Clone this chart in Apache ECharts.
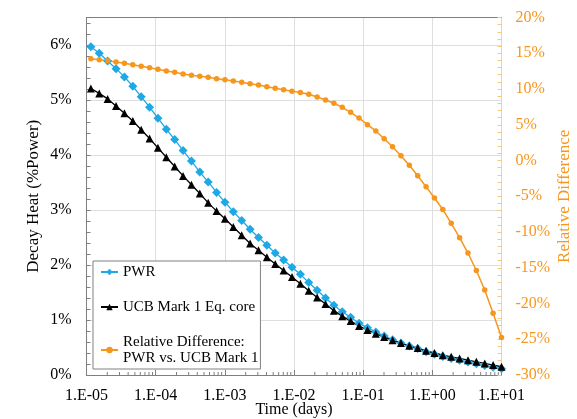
<!DOCTYPE html>
<html>
<head>
<meta charset="utf-8">
<script src="https://cdn.jsdelivr.net/npm/echarts@6/dist/echarts.min.js"></script>
<style>html,body{margin:0;padding:0;background:#fff}#c{width:577px;height:419px}</style>
</head>
<body>
<div id="c"></div>
<script>
const timeDays = [1.157e-5,1.530e-5,2.022e-5,2.673e-5,3.533e-5,4.669e-5,6.172e-5,8.156e-5,1.078e-4,1.425e-4,
  1.884e-4,2.490e-4,3.291e-4,4.349e-4,5.749e-4,7.598e-4,1.004e-3,1.327e-3,1.754e-3,2.319e-3,
  3.065e-3,4.051e-3,5.355e-3,7.078e-3,9.357e-3,1.237e-2,1.635e-2,2.161e-2,2.856e-2,3.775e-2,
  4.989e-2,6.594e-2,8.715e-2,0.1152,0.1523,0.2012,0.2660,0.3516,0.4648,0.6142,
  0.8119,1.073,1.418,1.875,2.478,3.275,4.329,5.721,7.562,10];
const pwr = [5.97,5.85,5.71,5.57,5.42,5.25,5.06,4.87,4.67,4.47,
  4.28,4.08,3.89,3.69,3.51,3.32,3.14,2.97,2.81,2.65,
  2.50,2.36,2.22,2.09,1.96,1.83,1.68,1.54,1.40,1.27,
  1.15,1.05,0.94,0.86,0.78,0.71,0.64,0.584,0.526,0.480,
  0.424,0.379,0.335,0.301,0.268,0.235,0.203,0.172,0.142,0.113];
const ucb = [5.21,5.12,5.02,4.89,4.76,4.62,4.46,4.30,4.13,3.96,
  3.79,3.62,3.46,3.30,3.13,2.98,2.84,2.69,2.54,2.39,
  2.27,2.14,2.02,1.90,1.78,1.66,1.53,1.41,1.29,1.17,
  1.07,0.98,0.89,0.82,0.75,0.69,0.63,0.58,0.53,0.49,
  0.44,0.40,0.36,0.33,0.30,0.27,0.24,0.21,0.18,0.15];
const relDiff = [14.24,14.1,13.96,13.78,13.6,13.4,13.17,12.98,12.75,12.52,
  12.33,12.1,11.92,11.78,11.64,11.44,11.3,11.12,10.94,10.74,
  10.56,10.32,10.1,9.9,9.7,9.5,9.26,8.88,8.46,8.0,
  7.44,6.74,5.94,5.01,4.13,3.05,1.93,0.67,-0.67,-2.13,
  -3.66,-5.24,-6.85,-8.78,-10.8,-12.94,-15.38,-18.12,-21.35,-24.75];
const xTickLabels = ['1.E-05','1.E-04','1.E-03','1.E-02','1.E-01','1.E+00','1.E+01'];
const seriesNames = ['PWR','UCB Mark 1 Eq. core','Relative Difference:\nPWR vs. UCB Mark 1'];

const FONT = "'Liberation Serif','Times New Roman',serif";
const BLUE = '#1EA9E6', ORANGE = '#F7961C', AXIS = '#7f7f7f', GRIDC = '#dedede';

// minor tick positions for the log axis (2..9 within each decade)
const minorTicks = [];
for (let d = -5; d < 1; d++) for (let k = 2; k <= 9; k++) minorTicks.push([k * Math.pow(10, d)]);

const pair = arr => timeDays.map((t, i) => [t, arr[i]]);

const chart = echarts.init(document.getElementById('c'));
chart.setOption({
  animation: false,
  backgroundColor: '#fff',
  grid: {left: 86.5, right: 75.5, top: 17.5, bottom: 44, containLabel: false, outerBoundsMode: 'none'},
  legend: {
    data: seriesNames, orient: 'vertical', left: 93, top: 261,
    backgroundColor: '#fff', borderColor: '#808080', borderWidth: 1,
    padding: [3, 2, 3, 7], itemGap: 19, itemWidth: 17, itemHeight: 8, itemTextGap: 2,
    textStyle: {fontFamily: FONT, fontSize: 15, color: '#000', lineHeight: 16}
  },
  xAxis: [{
    type: 'log', logBase: 10, min: 1e-5, max: 10,
    name: 'Time (days)', nameLocation: 'middle', nameGap: 27, nameMoveOverlap: false,
    nameTextStyle: {fontFamily: FONT, fontSize: 16, color: '#000'},
    axisLine: {onZero: false, lineStyle: {color: AXIS, width: 1}},
    axisTick: {inside: true, length: 5, lineStyle: {color: AXIS}},
    axisLabel: {fontFamily: FONT, fontSize: 16, color: '#000', margin: 13,
      formatter: v => xTickLabels[Math.round(Math.log10(v)) + 5] || ''},
    splitLine: {show: true, lineStyle: {color: GRIDC, width: 1}},
    minorTick: {show: false}
  }, {
    type: 'log', logBase: 10, min: 1e-5, max: 10, position: 'top',
    axisLine: {show: true, onZero: false, lineStyle: {color: AXIS, width: 1}},
    axisTick: {show: false}, axisLabel: {show: false}, splitLine: {show: false}
  }],
  yAxis: [{
    type: 'value', min: 0, max: 6.5, interval: 1,
    name: 'Decay Heat (%Power)', nameLocation: 'middle', nameGap: 44, nameMoveOverlap: false,
    nameTextStyle: {fontFamily: FONT, fontSize: 17, color: '#000'},
    axisLine: {show: true, onZero: false, lineStyle: {color: AXIS, width: 1}},
    axisTick: {show: true, inside: true, length: 4, lineStyle: {color: AXIS}},
    minorTick: {show: true, splitNumber: 5, length: 4, lineStyle: {color: AXIS}},
    axisLabel: {fontFamily: FONT, fontSize: 16, color: '#000', margin: 15,
      formatter: v => (Math.abs(v - Math.round(v)) < 1e-9 ? Math.round(v) + '%' : '')},
    splitLine: {show: true, lineStyle: {color: GRIDC, width: 1}}
  }, {
    type: 'value', min: -30, max: 20, interval: 5, position: 'right',
    name: 'Relative Difference', nameLocation: 'middle', nameGap: 55, nameMoveOverlap: false,
    nameTextStyle: {fontFamily: FONT, fontSize: 17, color: ORANGE},
    axisLine: {show: true, onZero: false, lineStyle: {color: '#FBD195', width: 1}},
    axisTick: {show: true, inside: true, length: 4, lineStyle: {color: '#F9C77E'}},
    minorTick: {show: true, splitNumber: 5, length: 4, lineStyle: {color: '#F9C77E'}},
    axisLabel: {fontFamily: FONT, fontSize: 16, color: ORANGE, margin: 14,
      formatter: v => v + '%'},
    splitLine: {show: false}
  }],
  series: [{
    name: seriesNames[0], type: 'line', data: pair(pwr), xAxisIndex: 0, yAxisIndex: 0,
    symbol: 'diamond', symbolSize: 9, color: BLUE,
    lineStyle: {color: BLUE, width: 1.3}, itemStyle: {color: BLUE}
  }, {
    name: seriesNames[1], type: 'line', data: pair(ucb), xAxisIndex: 0, yAxisIndex: 0,
    symbol: 'triangle', symbolSize: 8, color: '#000',
    lineStyle: {color: '#000', width: 1.3}, itemStyle: {color: '#000'}
  }, {
    name: seriesNames[2], type: 'line', data: pair(relDiff), xAxisIndex: 0, yAxisIndex: 1,
    symbol: 'circle', symbolSize: 5.5, color: ORANGE,
    lineStyle: {color: ORANGE, width: 1.5}, itemStyle: {color: ORANGE}
  }, {
    type: 'custom', data: minorTicks, xAxisIndex: 0, yAxisIndex: 0, silent: true, z: 1,
    renderItem: (params, api) => {
      const p = api.coord([api.value(0), 0]);
      return {type: 'line', shape: {x1: p[0], y1: p[1], x2: p[0], y2: p[1] - 3},
        style: {stroke: AXIS, lineWidth: 1}};
    }
  }]
});
</script>
</body>
</html>
